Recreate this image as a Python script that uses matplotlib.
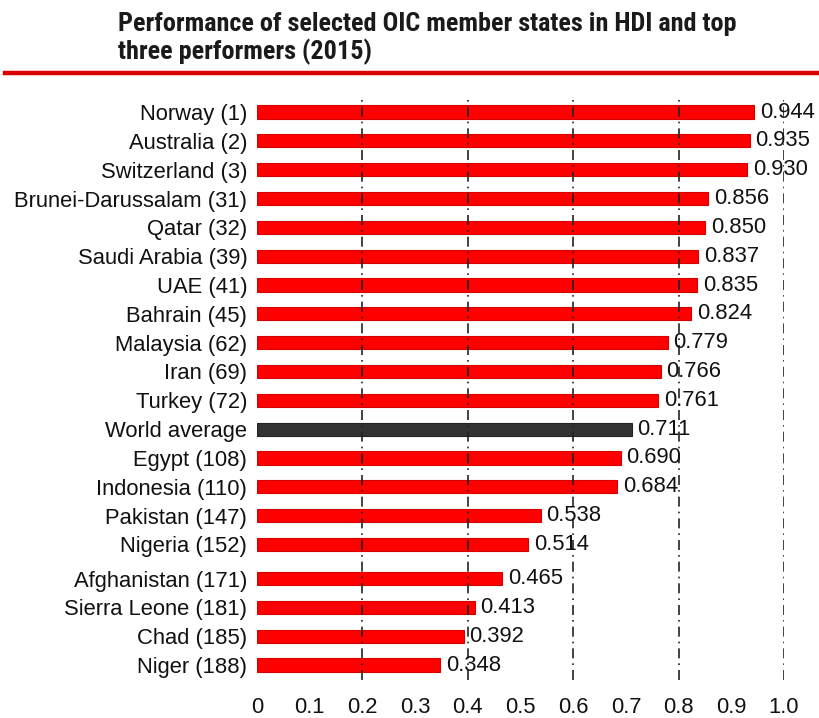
import matplotlib
matplotlib.use("Agg")
import matplotlib.pyplot as plt
from matplotlib.lines import Line2D
from matplotlib import font_manager

countries = ["Norway (1)", "Australia (2)", "Switzerland (3)", "Brunei-Darussalam (31)",
             "Qatar (32)", "Saudi Arabia (39)", "UAE (41)", "Bahrain (45)", "Malaysia (62)",
             "Iran (69)", "Turkey (72)", "World average", "Egypt (108)", "Indonesia (110)",
             "Pakistan (147)", "Nigeria (152)", "Afghanistan (171)", "Sierra Leone (181)",
             "Chad (185)", "Niger (188)"]
values = [0.944, 0.935, 0.930, 0.856, 0.850, 0.837, 0.835, 0.824, 0.779, 0.766,
          0.761, 0.711, 0.690, 0.684, 0.538, 0.514, 0.465, 0.413, 0.392, 0.348]
value_labels = ["0.944", "0.935", "0.930", "0.856", "0.850", "0.837", "0.835", "0.824",
                "0.779", "0.766", "0.761", "0.711", "0.690", "0.684", "0.538", "0.514",
                "0.465", "0.413", "0.392", "0.348"]
xticks = [0, 0.1, 0.2, 0.3, 0.4, 0.5, 0.6, 0.7, 0.8, 0.9, 1.0]
xtick_labels = ["0", "0.1", "0.2", "0.3", "0.4", "0.5", "0.6", "0.7", "0.8", "0.9", "1.0"]
title = "Performance of selected OIC member states in HDI and top\nthree performers (2015)"

installed = {f.name for f in font_manager.fontManager.ttflist}
title_family = [f for f in ["Liberation Sans Narrow", "DejaVu Sans Condensed", "Roboto Condensed",
                            "Open Sans Condensed", "Roboto"] if f in installed] or ["DejaVu Sans"]

W, H = 819, 718
fig = plt.figure(figsize=(W / 100, H / 100), dpi=100)
fig.patch.set_facecolor("white")

left_px, right_px, top_px, bot_px = 257, 784, 95, 680
ax = fig.add_axes([left_px / W, 1 - bot_px / H, (right_px - left_px) / W, (bot_px - top_px) / H])

# positions: small extra gap after Nigeria
ypos = [i + (0.18 if i >= 16 else 0) for i in range(len(countries))]
colors = ["#333333" if c == "World average" else "#ff0000" for c in countries]
edges = ["#222222" if c == "World average" else "#d40000" for c in countries]

ax.barh(ypos, values, height=0.46, color=colors, edgecolor=edges, linewidth=0.8, zorder=2)

FS = 15.8
for y, v, t in zip(ypos, values, value_labels):
    ax.text(v + 0.011, y, t, va="center", ha="left", fontsize=FS,
            family="Liberation Sans", color="#111111", zorder=4, clip_on=False)

ax.set_xlim(0, 1.0)
ax.set_ylim(ypos[-1] + 0.52, -0.59)
ax.set_yticks(ypos)
ax.set_yticklabels(countries, fontsize=FS, family="Liberation Sans", color="#111111")
ax.set_xticks(xticks)
ax.set_xticklabels(xtick_labels, fontsize=FS, family="Liberation Sans", color="#111111")
ax.tick_params(axis="y", length=0, pad=7)
ax.tick_params(axis="x", length=0, pad=12)

for g in [0.2, 0.4, 0.6, 0.8, 1.0]:
    ax.axvline(g, color="#222222", linestyle=(0, (6, 3, 1, 3)), linewidth=1.2, zorder=3)

for s in ax.spines.values():
    s.set_visible(False)

fig.text(118 / W, 1 - 12 / H, title, ha="left", va="top", fontsize=18.9, fontweight="bold",
         family=title_family, color="#1a1a1a", linespacing=1.12)

fig.add_artist(Line2D([5 / W, 1.0], [1 - 73 / H, 1 - 73 / H], color="#dd0000",
                      linewidth=3.2, transform=fig.transFigure))

fig.savefig("out.png", dpi=100, facecolor="white")
